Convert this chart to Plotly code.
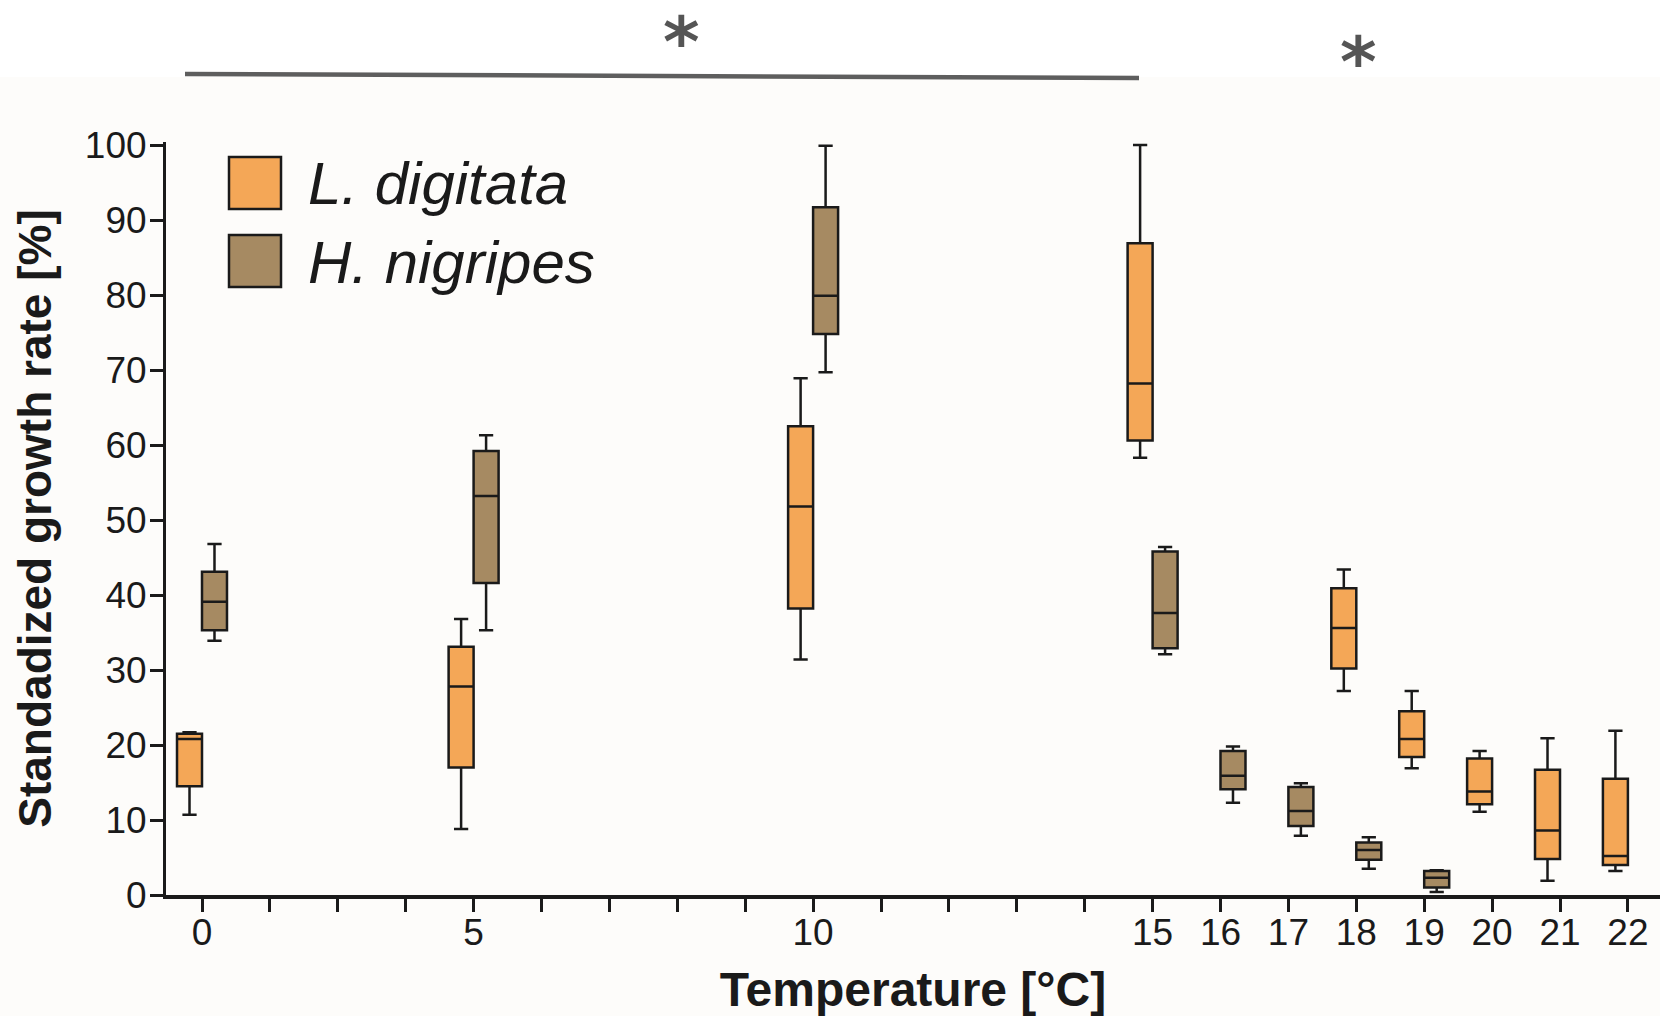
import plotly.graph_objects as go

# ---------------- data ----------------
temperatures = [0, 5, 10, 15, 16, 17, 18, 19, 20, 21, 22]
axis_slots = [0, 4, 9, 14, 15, 16, 17, 18, 19, 20, 21]   # position of each temperature on the (broken) axis
n_slots = 22
slot_of = dict(zip(temperatures, axis_slots))

ld_temp = [0, 5, 10, 15, 18, 19, 20, 21, 22]
ld_low = [10.7, 8.8, 31.4, 58.3, 27.2, 16.9, 11.1, 1.9, 3.2]
ld_q1 = [14.5, 17.0, 38.2, 60.6, 30.2, 18.4, 12.1, 4.8, 4.0]
ld_med = [20.8, 27.8, 51.8, 68.2, 35.6, 20.8, 13.8, 8.6, 5.2]
ld_q3 = [21.5, 33.1, 62.5, 86.9, 40.9, 24.5, 18.2, 16.7, 15.5]
ld_high = [21.7, 36.8, 68.9, 100.0, 43.4, 27.2, 19.2, 20.9, 21.9]

hn_temp = [0, 5, 10, 15, 16, 17, 18, 19]
hn_low = [33.9, 35.3, 69.7, 32.1, 12.3, 7.9, 3.5, 0.4]
hn_q1 = [35.3, 41.6, 74.8, 32.9, 14.1, 9.2, 4.7, 1.0]
hn_med = [39.1, 53.2, 79.9, 37.6, 15.9, 11.2, 6.0, 2.3]
hn_q3 = [43.1, 59.2, 91.7, 45.8, 19.2, 14.4, 7.0, 3.2]
hn_high = [46.8, 61.3, 99.9, 46.4, 19.8, 14.9, 7.7, 3.3]

y_tick_values = [0, 10, 20, 30, 40, 50, 60, 70, 80, 90, 100]

series_names = ["L. digitata", "H. nigripes"]
series_colors = ["#F4A757", "#A68A62"]

# ---------------- geometry ----------------
W, H = 1660, 1016
ML, MR, MT, MB = 166, 0, 142, 121
PW, PH = W - ML - MR, H - MT - MB


def px_x(px):
    return (px - ML) / PW


def px_y(py):
    return (H - MB - py) / PH


FONT = "Arial, 'Liberation Sans', sans-serif"
INK = "#1a1a1a"

fig = go.Figure()

for name, color, temps, lo, q1, med, q3, hi in [
    (series_names[0], series_colors[0], ld_temp, ld_low, ld_q1, ld_med, ld_q3, ld_high),
    (series_names[1], series_colors[1], hn_temp, hn_low, hn_q1, hn_med, hn_q3, hn_high),
]:
    fig.add_trace(go.Box(
        name=name,
        x=[slot_of[t] for t in temps],
        q1=q1, median=med, q3=q3, lowerfence=lo, upperfence=hi,
        boxpoints=False,
        fillcolor=color,
        line=dict(color=INK, width=2.5),
        whiskerwidth=0.57,
        showlegend=False,
        customdata=temps,
        hovertemplate="%{customdata} °C<extra>" + name + "</extra>",
    ))

tick_text = []
for s in range(n_slots):
    if s in axis_slots:
        tick_text.append(str(temperatures[axis_slots.index(s)]))
    else:
        tick_text.append("")

x0_range = -36 / 67.9
fig.update_layout(
    width=W, height=H,
    margin=dict(l=ML, r=MR, t=MT, b=MB, autoexpand=False),
    paper_bgcolor="#FDFCFA",
    plot_bgcolor="#FDFCFA",
    boxmode="group",
    boxgap=0.264,
    boxgroupgap=0,
    font=dict(family=FONT, color=INK),
    xaxis=dict(
        range=[x0_range, x0_range + PW / 67.9],
        tickmode="array", tickvals=list(range(n_slots)), ticktext=tick_text,
        ticks="outside", ticklen=13, tickwidth=3, tickcolor=INK,
        showline=True, linewidth=4, linecolor=INK,
        showgrid=False, zeroline=False,
        ticklabelstandoff=-11,
        tickfont=dict(size=37, family=FONT, color=INK),
        title=dict(text="<b>Temperature [°C]</b>", font=dict(size=48, family=FONT, color=INK), standoff=30),
        automargin=False,
    ),
    yaxis=dict(
        range=[0, 100.4],
        tickmode="array", tickvals=y_tick_values,
        ticks="outside", ticklen=13, tickwidth=3, tickcolor=INK,
        showline=True, linewidth=3, linecolor=INK,
        showgrid=False, zeroline=False,
        ticklabelstandoff=-4,
        tickfont=dict(size=37, family=FONT, color=INK),
        title=dict(text="<b>Standadized growth rate [%]</b>", font=dict(size=46, family=FONT, color=INK), standoff=19),
        automargin=False,
    ),
)

shapes = []
annotations = []
# white band at the top
shapes.append(dict(type="rect", xref="paper", yref="paper", layer="below",
                   x0=px_x(0) - 0.01, x1=px_x(W) + 0.01, y0=px_y(77), y1=px_y(0) + 0.01,
                   fillcolor="#FFFFFF", line=dict(width=0)))
# significance bar
shapes.append(dict(type="line", xref="paper", yref="paper",
                   x0=px_x(185), y0=px_y(74), x1=px_x(1139), y1=px_y(78),
                   line=dict(color="#5E5E5E", width=4.5)))
for sx, sy in [(681, 0), (1358, 20)]:
    annotations.append(dict(text="<b>*</b>", xref="paper", yref="paper", x=px_x(sx), y=px_y(sy),
                            xanchor="center", yanchor="top", showarrow=False, borderpad=0,
                            font=dict(size=70, family="DejaVu Sans", color="#555555")))

# legend
for i, (name, color) in enumerate(zip(series_names, series_colors)):
    top = 157 + i * 78
    shapes.append(dict(type="rect", xref="paper", yref="paper",
                       x0=px_x(229), x1=px_x(281), y0=px_y(top + 52), y1=px_y(top),
                       fillcolor=color, line=dict(color=INK, width=2.5)))
    annotations.append(dict(text="<i>" + name + "</i>", xref="paper", yref="paper",
                            x=px_x(306), y=px_y(top + 27), xanchor="left", yanchor="middle",
                            showarrow=False, font=dict(size=60, family=FONT, color=INK)))

fig.update_layout(shapes=shapes, annotations=annotations)

fig.write_html("out.html")
